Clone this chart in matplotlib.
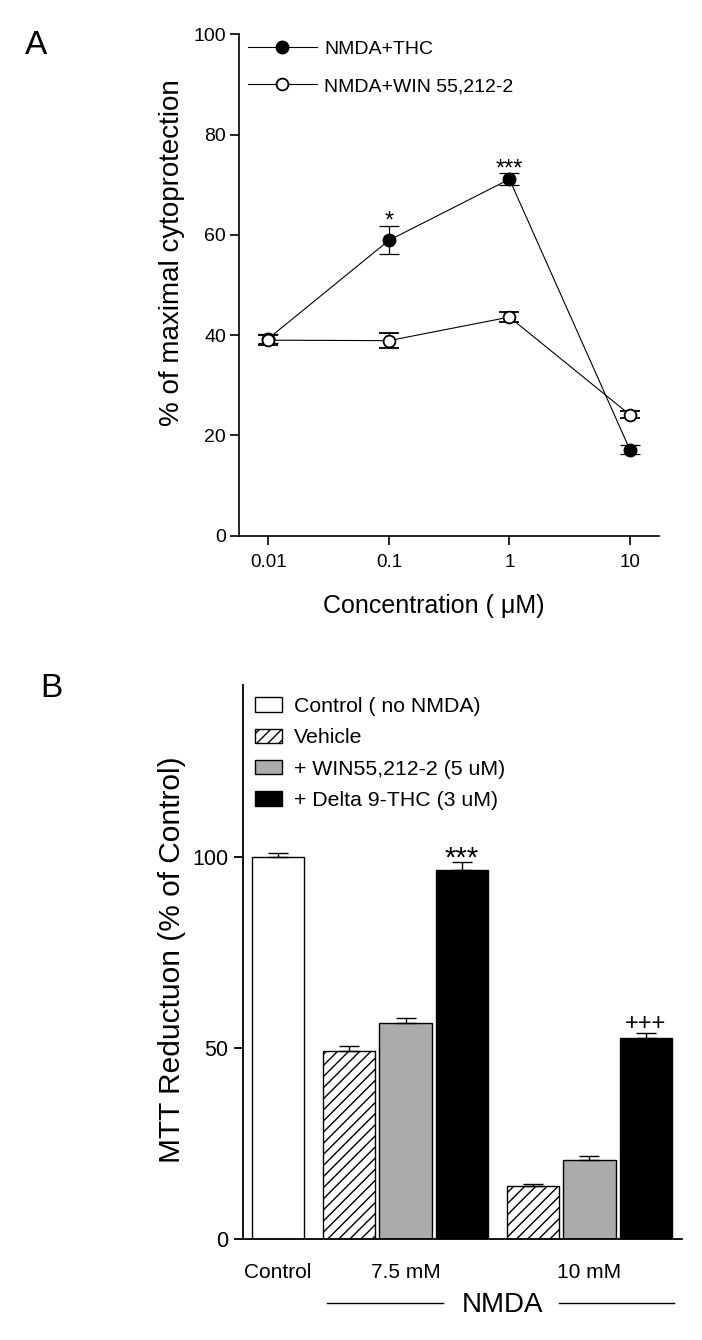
import numpy as np
import matplotlib
matplotlib.use('Agg')
import matplotlib.pyplot as plt
from matplotlib.patches import Patch
from matplotlib.lines import Line2D

plt.rcParams['font.family'] = ['Liberation Sans', 'DejaVu Sans']
plt.rcParams['hatch.linewidth'] = 1.0

# panel A: % of maximal cytoprotection vs concentration (uM)
conc = [0.01, 0.1, 1, 10]
conc_labels = ['0.01', '0.1', '1', '10']
thc_mean = [39.3, 58.9, 71.1, 17.1]
thc_err = [0.9, 2.8, 1.2, 0.9]
win_mean = [39.0, 38.9, 43.6, 24.1]
win_err = [1.0, 1.5, 0.95, 0.7]
a_stars = ['*', '***']
a_star_conc = [0.1, 1]
a_star_y = [62.6, 73.0]

# panel B: MTT reduction (% of control)
legend_b = ['Control ( no NMDA)', 'Vehicle', '+ WIN55,212-2 (5 uM)', '+ Delta 9-THC (3 uM)']
group_labels = ['Control', '7.5 mM', '10 mM']
control_mean = 100.0
control_err = 1.05
vehicle_mean = [49.3, 13.95]
vehicle_err = [1.4, 0.45]
win_b_mean = [56.7, 20.7]
win_b_err = [1.1, 1.0]
thc_b_mean = [96.8, 52.6]
thc_b_err = [2.0, 1.5]
b_marks = ['***', '+++']
b_mark_y = [99.6, 56.3]
b_mark_size = [21, 17]

fig = plt.figure(figsize=(7.02, 13.4), dpi=100)

# ---------------- panel A ----------------
axA = fig.add_axes([239.3 / 702, 1 - 535.7 / 1340, 420 / 702, 501.4 / 1340])
axA.errorbar(conc, thc_mean, yerr=thc_err, fmt='o-', color='black', mfc='black',
             ms=9, lw=0.8, elinewidth=0.9, capsize=7, capthick=0.9, zorder=3)
axA.errorbar(conc, win_mean, yerr=win_err, fmt='o-', color='black', mfc='white',
             mec='black', mew=1.3, ms=8.5, lw=0.8, elinewidth=0.9, capsize=7,
             capthick=0.9, zorder=4)
axA.set_xscale('log')
axA.set_xlim(0.00575, 17.5)
axA.set_ylim(0, 100)
axA.set_xticks(conc, conc_labels)
axA.minorticks_off()
axA.set_yticks([0, 20, 40, 60, 80, 100])
for s in ['top', 'right']:
    axA.spines[s].set_visible(False)
for s in ['left', 'bottom']:
    axA.spines[s].set_linewidth(1.2)
axA.tick_params(axis='y', direction='out', length=6.5, width=1.2, labelsize=14, pad=3)
axA.tick_params(axis='x', direction='out', length=6.5, width=1.2, labelsize=13.5, pad=7)

for txt, xc, yc in zip(a_stars, a_star_conc, a_star_y):
    axA.text(xc, yc, txt, ha='center', va='center', fontsize=17)

axA.set_xlabel('Concentration ( μM)', fontsize=18)
axA.xaxis.set_label_coords(0.4636, -0.117)
axA.set_ylabel('% of maximal cytoprotection', fontsize=20)
axA.yaxis.set_label_coords(-0.129, 0.564)

hA = [Line2D([], [], color='black', lw=0.8, marker='o', ms=9, mfc='black'),
      Line2D([], [], color='black', lw=0.8, marker='o', ms=8.5, mfc='white', mew=1.3)]
axA.legend(hA, ['NMDA+THC', 'NMDA+WIN 55,212-2'], loc='upper left',
           bbox_to_anchor=(247.7 / 702, 1 - 40 / 1340), bbox_transform=fig.transFigure,
           frameon=False, fontsize=14, handlelength=3.55, handletextpad=0.38,
           labelspacing=1.02, borderpad=0, borderaxespad=0)

fig.text(25 / 702, 1 - 30 / 1340, 'A', fontsize=24, ha='left', va='top')

# ---------------- panel B ----------------
axB = fig.add_axes([242.7 / 702, 1 - 1239.3 / 1340, 439 / 702, 554.3 / 1340])
group_x = np.array([2.257, 5.51])
w = 0.93
ekw = dict(ecolor='black', elinewidth=1.0, capsize=7.2, capthick=1.0)

axB.bar([0], [control_mean], w, color='white', edgecolor='black', lw=1.0,
        yerr=[[0], [control_err]], error_kw=ekw)
axB.bar(group_x - 1, vehicle_mean, w, color='white', edgecolor='black', lw=1.0,
        hatch='///', yerr=[[0, 0], vehicle_err], error_kw=ekw)
axB.bar(group_x, win_b_mean, w, color='#ababab', edgecolor='black', lw=1.0,
        yerr=[[0, 0], win_b_err], error_kw=ekw)
axB.bar(group_x + 1, thc_b_mean, w, color='black', edgecolor='black', lw=1.0,
        yerr=[[0, 0], thc_b_err], error_kw=ekw)

for txt, xc, yc, fs in zip(b_marks, group_x + 1, b_mark_y, b_mark_size):
    axB.text(xc, yc, txt, ha='center', va='center', fontsize=fs)

axB.set_xlim(-0.625, 7.145)
axB.set_ylim(0, 145.1)
axB.set_yticks([0, 50, 100])
axB.set_xticks([0, group_x[0], group_x[1]], group_labels)
for s in ['top', 'right']:
    axB.spines[s].set_visible(False)
for s in ['left', 'bottom']:
    axB.spines[s].set_linewidth(1.3)
axB.tick_params(axis='y', direction='out', length=6.5, width=1.3, labelsize=15.5, pad=4)
axB.tick_params(axis='x', length=0, labelsize=15, pad=17)
axB.set_ylabel('MTT Reductuon (% of Control)', fontsize=21.5)
axB.yaxis.set_label_coords(-0.130, 0.504)

# NMDA bracket under the two NMDA groups
tr = axB.get_xaxis_transform()
axB.plot([0.862, 2.926], [-0.1154, -0.1154], color='black', lw=1.0, transform=tr, clip_on=False)
axB.plot([4.973, 7.009], [-0.1154, -0.1154], color='black', lw=1.0, transform=tr, clip_on=False)
axB.text(3.977, -0.1185, 'NMDA', transform=tr, ha='center', va='center', fontsize=20)

hB = [Patch(facecolor='white', edgecolor='black', lw=1.0),
      Patch(facecolor='white', edgecolor='black', lw=1.0, hatch='///'),
      Patch(facecolor='#ababab', edgecolor='black', lw=1.0),
      Patch(facecolor='black', edgecolor='black', lw=1.0)]
axB.legend(hB, legend_b, loc='upper left',
           bbox_to_anchor=(255 / 702, 1 - 697 / 1340), bbox_transform=fig.transFigure,
           frameon=False, fontsize=15.3, handlelength=1.25, handleheight=0.66,
           handletextpad=0.58, labelspacing=0.58, borderpad=0, borderaxespad=0)

fig.text(40.5 / 702, 1 - 673 / 1340, 'B', fontsize=24, ha='left', va='top')

fig.savefig('out.png', dpi=100)
